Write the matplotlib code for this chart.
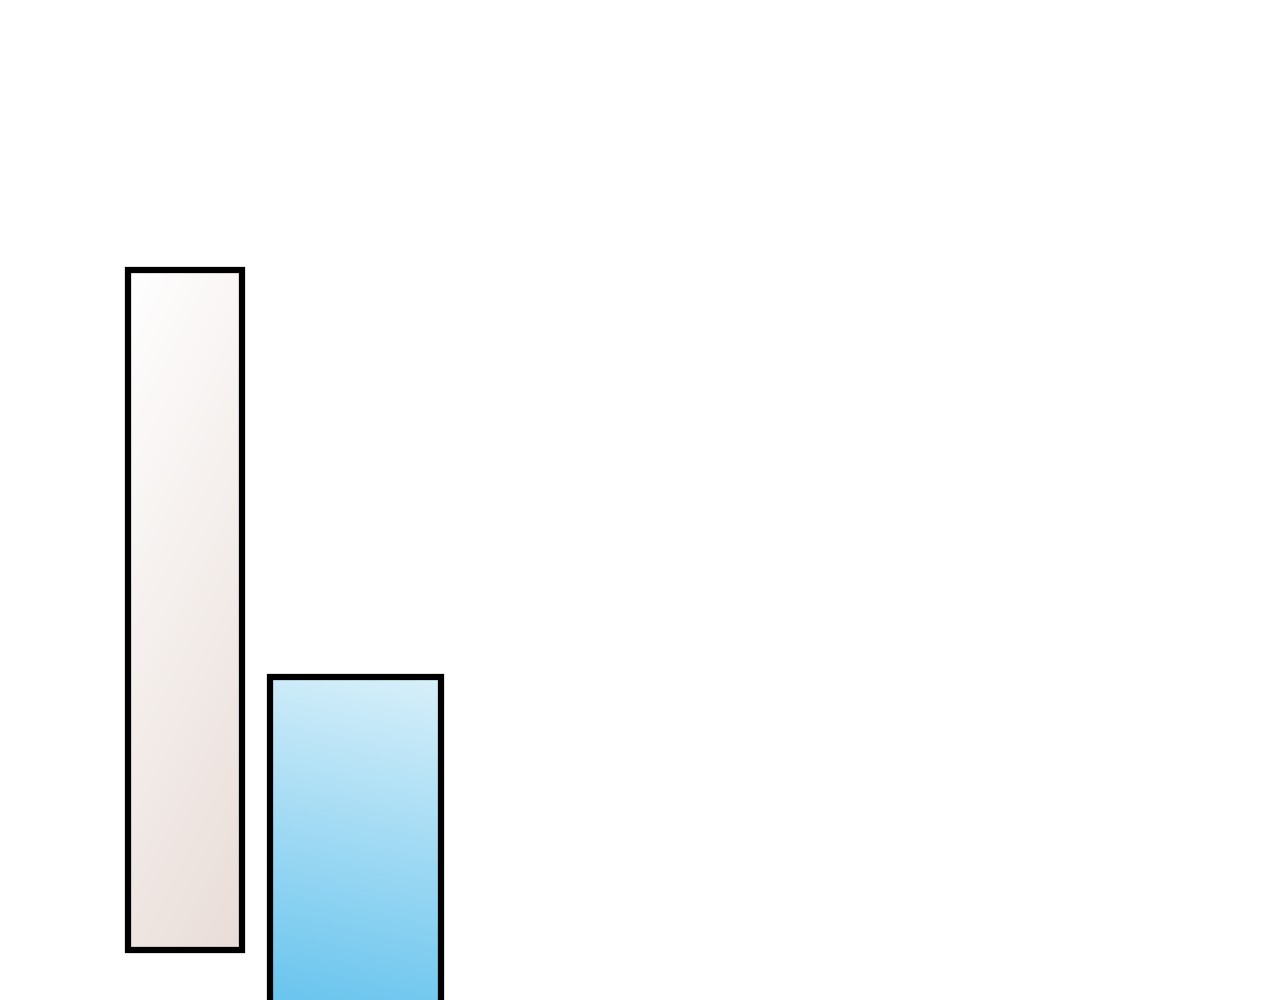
import matplotlib.pyplot as plt
import numpy as np
from matplotlib.colors import LinearSegmentedColormap

# two floating bars, units: 1 = 100 px
labels = ['A', 'B']
centers = [1.849, 3.553]
widths = [1.137, 1.715]
bottoms = [0.505, -0.06]
tops = [7.30, 3.235]
colors_start = ['#ffffff', '#d8f0fa']
colors_end = ['#e9ddd8', '#68c4ee']

fig = plt.figure(figsize=[12.8, 10], dpi=100)
ax = fig.add_axes([0, 0, 1, 1])
ax.set_xlim(0, 12.8)
ax.set_ylim(0, 10)
ax.axis('off')

bars = ax.bar(centers, np.array(tops) - np.array(bottoms), width=widths, bottom=bottoms,
              facecolor='none', edgecolor='black', linewidth=4.5, zorder=3)

for i, b in enumerate(bars):
    x0, x1 = centers[i] - widths[i] / 2, centers[i] + widths[i] / 2
    y0, y1 = bottoms[i], tops[i]
    yy, xx = np.mgrid[0:1:200j, 0:1:200j]
    if i == 0:
        t = 0.75 * yy + 0.25 * xx  # diagonal, top-left light
    else:
        t = 0.9 * yy + 0.1 * (1 - xx)
    t = t / t.max()
    cmap = LinearSegmentedColormap.from_list('g%d' % i, [colors_start[i], colors_end[i]])
    im = ax.imshow(t, cmap=cmap, extent=[x0, x1, y0, y1], origin='upper',
                   aspect='auto', zorder=2, interpolation='bilinear')
    im.set_clip_path(b)

ax.set_xlim(0, 12.8)
ax.set_ylim(0, 10)
fig.savefig('out.png', dpi=100)
